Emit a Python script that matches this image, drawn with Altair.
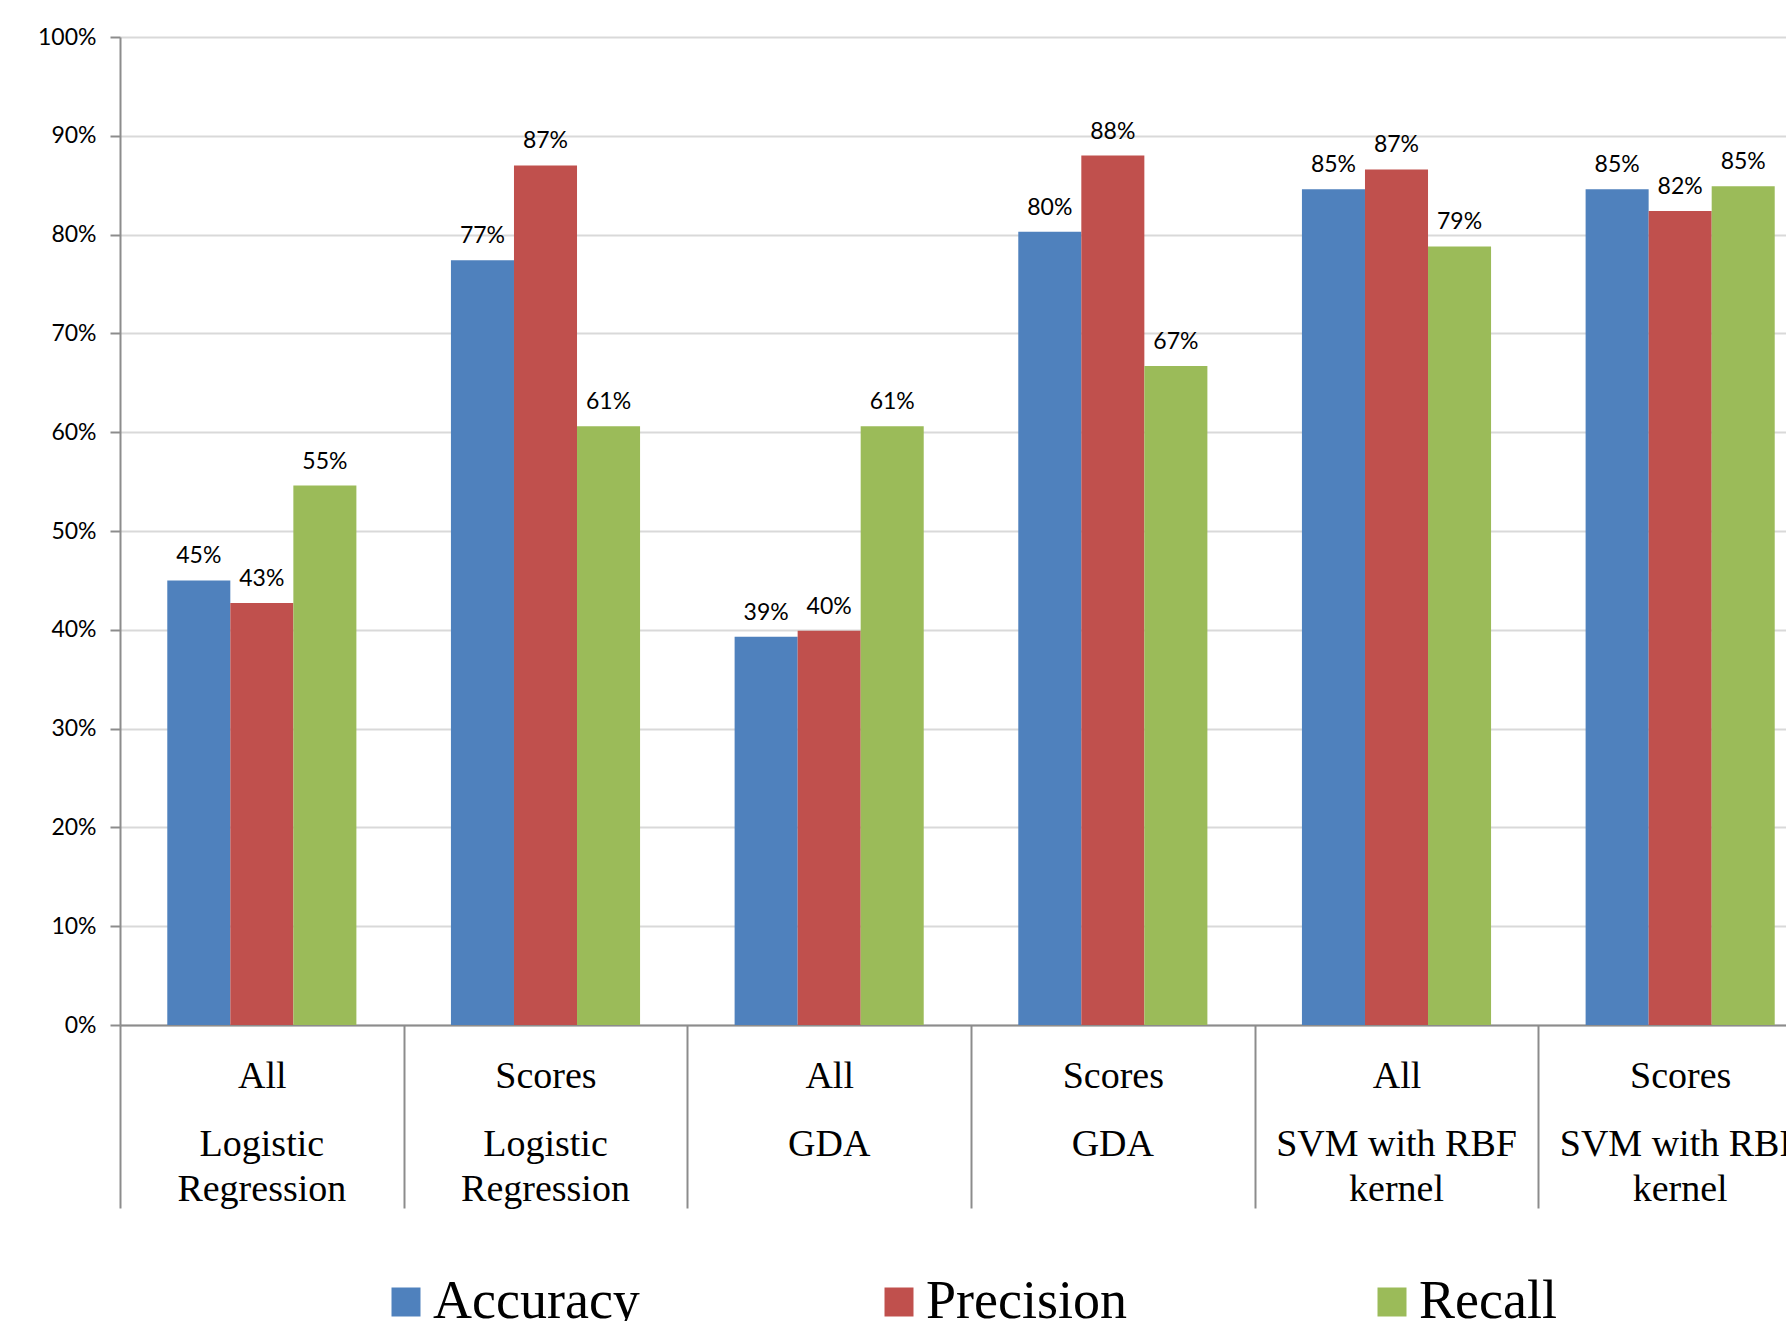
import altair as alt
import pandas as pd

groups = ["All|Logistic Regression", "Scores|Logistic Regression", "All|GDA",
          "Scores|GDA", "All|SVM with RBF kernel", "Scores|SVM with RBF kernel"]
models = ["Logistic\nRegression", "Logistic\nRegression", "GDA", "GDA",
          "SVM with RBF\nkernel", "SVM with RBF\nkernel"]
series = ["Accuracy", "Precision", "Recall"]
accuracy = [0.450, 0.774, 0.393, 0.803, 0.846, 0.846]
precision = [0.427, 0.870, 0.399, 0.880, 0.866, 0.824]
recall = [0.546, 0.606, 0.606, 0.667, 0.788, 0.849]
colors = ["#4F81BD", "#C0504D", "#9BBB59"]

rows = []
for s, vals in zip(series, [accuracy, precision, recall]):
    for g, v in zip(groups, vals):
        rows.append({"group": g, "series": s, "value": v})
df = pd.DataFrame(rows)
df_models = pd.DataFrame({"group": groups, "model": models})

x_enc = alt.X(
    "group:N", sort=groups,
    scale=alt.Scale(range=[0, 1702], paddingInner=0, paddingOuter=0),
    axis=alt.Axis(
        title=None, labelExpr="split(datum.label, '|')[0]", labelAngle=0,
        tickBand="extent", tickSize=183, tickColor="#8c8c8c", tickWidth=2,
        domainColor="#8c8c8c", domainWidth=2, grid=False,
        labelPadding=-121, labelBaseline="alphabetic",
        labelFont="Liberation Serif", labelFontSize=38, labelColor="black",
    ),
)
y_enc = alt.Y(
    "value:Q",
    scale=alt.Scale(domain=[0, 1]),
    axis=alt.Axis(
        title=None, format=".0%", values=[i / 10 for i in range(11)],
        labelFont="Lato", labelFontSize=23, labelColor="black",
        labelPadding=14, tickSize=10, tickColor="#8c8c8c", tickWidth=2,
        domainColor="#8c8c8c", domainWidth=2,
        gridColor="#d9d9d9", gridWidth=2,
    ),
)
xoff = alt.XOffset("series:N", sort=series,
                   scale=alt.Scale(paddingInner=0, paddingOuter=0.75))

bars = alt.Chart(df).mark_bar().encode(
    x=x_enc, y=y_enc, xOffset=xoff,
    color=alt.Color(
        "series:N", sort=series,
        scale=alt.Scale(domain=series, range=colors),
        legend=alt.Legend(
            orient="none", legendX=259, legendY=1238, direction="horizontal",
            columns=3, gridAlign="all", columnPadding=232, title=None,
            symbolType="square", symbolSize=841, symbolStrokeWidth=0,
            labelFont="Liberation Serif", labelFontSize=54, labelLimit=600,
            labelOffset=0, labelColor="black", padding=0,
        ),
    ),
)

labels = alt.Chart(df).mark_text(
    dy=-17, baseline="alphabetic", font="Lato", fontSize=23, color="black"
).encode(
    x=alt.X("group:N", sort=groups), y="value:Q", xOffset=xoff,
    text=alt.Text("value:Q", format=".0%"),
)

model_text = alt.Chart(df_models).mark_text(
    font="Liberation Serif", fontSize=38, lineHeight=45, baseline="alphabetic",
    lineBreak="\n", align="center", color="black"
).encode(
    x=alt.X("group:N", sort=groups), y=alt.value(1119), text="model:N",
)

chart = alt.layer(bars, labels, model_text).properties(
    width=1666, height=988,
    autosize=alt.AutoSizeParams(type="none"),
    padding={"left": 120, "top": 37, "right": 0, "bottom": 296},
    background="white",
).configure_view(stroke=None)

chart.save("out.html", embed_options={"renderer": "svg", "actions": False})
